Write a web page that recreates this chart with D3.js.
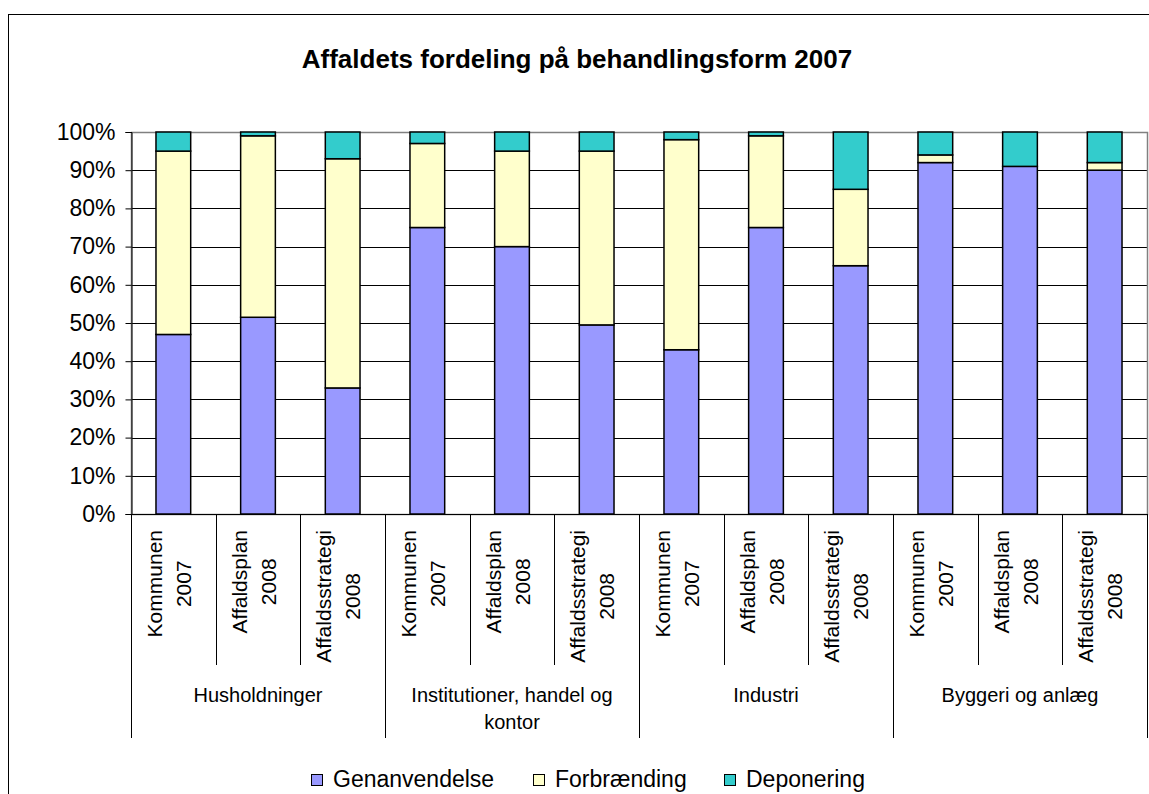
<!DOCTYPE html>
<html>
<head>
<meta charset="utf-8">
<script src="https://cdn.jsdelivr.net/npm/d3@7"></script>
<style>
  body { margin: 0; background: #fff; }
  svg text { font-family: "Liberation Sans", Arial, sans-serif; fill: #000; }
</style>
</head>
<body>
<svg id="chart"></svg>
<script>
(function(){

  // DATA
  const groups = ["Husholdninger", "Institutioner, handel og kontor", "Industri", "Byggeri og anlæg"];
  const subLabels = [["Kommunen", "2007"], ["Affaldsplan", "2008"], ["Affaldsstrategi", "2008"]];
  const seriesNames = ["Genanvendelse", "Forbrænding", "Deponering"];
  const seriesColors = ["#9999FF", "#FFFFCC", "#33CCCC"];
  const genanvendelse = [47, 51.5, 33, 75, 70, 49.5, 43, 75, 65, 92, 91, 90];
  const forbraending  = [48, 47.5, 60, 22, 25, 45.5, 55, 24, 20, 2, 0, 2];
  const deponering    = [5, 1, 7, 3, 5, 5, 2, 1, 15, 6, 9, 8];
  const yTicks = [0, 10, 20, 30, 40, 50, 60, 70, 80, 90, 100];

  const w = 1149,
    h = 794,
    left = 131,
    right = 1147,
    top = 132,
    bottom = 514,
    fs = 20;

  // build rows for stacking
  const rows = genanvendelse.map((g, i) => ({
    id: i,
    Genanvendelse: g,
    "Forbrænding": forbraending[i],
    Deponering: deponering[i]
  }));

  const svg = d3.select("#chart")
    .attr("width", w)
    .attr("height", h);

  svg.append("rect")
    .attr("width", w).attr("height", h)
    .attr("fill", "#fff");

  // chart frame (runs off the right and bottom edge)
  svg.append("rect")
    .attr("x", 8.5).attr("y", 14.5)
    .attr("width", w + 20).attr("height", h + 20)
    .attr("fill", "none")
    .attr("stroke", "#000")
    .attr("stroke-width", 1);

  // TITLE
  svg.append("text")
    .attr("x", 577)
    .attr("y", 68)
    .attr("text-anchor", "middle")
    .style("font-size", "26px")
    .style("font-weight", "bold")
    .text("Affaldets fordeling på behandlingsform 2007");

  // SCALES
  const x = d3.scaleBand()
    .domain(rows.map(d => d.id))
    .range([left, right])
    .paddingInner(0.59)
    .paddingOuter(0.295);

  const y = d3.scaleLinear()
    .domain([0, 100])
    .range([bottom, top]);

  const step = x.step();

  // GRIDLINES
  svg.append("g")
    .selectAll("line")
    .data(yTicks.slice(1, -1))
    .join("line")
    .attr("x1", left).attr("x2", right)
    .attr("y1", d => Math.round(y(d)) + 0.5)
    .attr("y2", d => Math.round(y(d)) + 0.5)
    .attr("stroke", "#000")
    .attr("stroke-width", 1);

  // plot border
  svg.append("rect")
    .attr("x", left + 0.5).attr("y", top + 0.5)
    .attr("width", right - left).attr("height", bottom - top)
    .attr("fill", "none")
    .attr("stroke", "#808080")
    .attr("stroke-width", 1.5);

  // BARS
  const stack = d3.stack().keys(seriesNames);
  const stacked = stack(rows);

  svg.append("g")
    .selectAll("g")
    .data(stacked)
    .join("g")
    .attr("fill", (d, i) => seriesColors[i])
    .selectAll("rect")
    .data(d => d.filter(p => p[1] - p[0] > 0))
    .join("rect")
    .attr("x", d => x(d.data.id))
    .attr("y", d => y(d[1]))
    .attr("width", x.bandwidth())
    .attr("height", d => y(d[0]) - y(d[1]))
    .attr("stroke", "#000")
    .attr("stroke-width", 1.5);

  // Y AXIS
  const yAxis = d3.axisLeft(y)
    .tickValues(yTicks)
    .tickSize(6)
    .tickPadding(10)
    .tickFormat(d => d + "%");

  const yg = svg.append("g")
    .attr("transform", "translate(" + (left + 0.5) + ",0)")
    .call(yAxis);
  yg.select(".domain").attr("stroke", "#000");
  yg.selectAll(".tick line").attr("stroke", "#000");
  yg.selectAll(".tick text")
    .style("font-size", "23px")
    .attr("fill", "#000");

  // X AXIS line
  svg.append("line")
    .attr("x1", left).attr("x2", right + 1)
    .attr("y1", bottom + 0.5).attr("y2", bottom + 0.5)
    .attr("stroke", "#000");

  // category separators
  const seps = d3.range(rows.length + 1);
  svg.append("g")
    .selectAll("line")
    .data(seps)
    .join("line")
    .attr("x1", d => Math.round(left + d * step) + 0.5)
    .attr("x2", d => Math.round(left + d * step) + 0.5)
    .attr("y1", bottom)
    .attr("y2", d => d % 3 === 0 ? 738 : 665)
    .attr("stroke", "#000")
    .attr("stroke-width", 1);

  // sub labels, rotated, two lines, top aligned to axis
  const lineGap = 29;
  rows.forEach((r, i) => {
    const lines = subLabels[i % 3];
    const cx = x(r.id) + x.bandwidth() / 2;
    const g = svg.append("g");
    const txt = g.append("text")
      .attr("text-anchor", "middle")
      .style("font-size", "21px");
    lines.forEach((l, j) => {
      txt.append("tspan")
        .attr("x", 0)
        .attr("y", (j - (lines.length - 1) / 2) * lineGap + 7)
        .text(l);
    });
    const maxLen = d3.max(txt.selectAll("tspan").nodes(), n => n.getComputedTextLength());
    g.attr("transform", "translate(" + (cx - 4) + "," + (530 + maxLen / 2) + ") rotate(-90)");
  });

  // group labels
  groups.forEach((gname, gi) => {
    const cx = left + (gi * 3 + 1.5) * step;
    const t = svg.append("text")
      .attr("text-anchor", "middle")
      .style("font-size", fs + "px");
    // wrap to the group width
    const words = gname.split(" ");
    const maxW = step * 3 - 20;
    let lines = [], cur = "";
    const probe = svg.append("text").style("font-size", fs + "px");
    words.forEach(wd => {
      const test = cur ? cur + " " + wd : wd;
      probe.text(test);
      if (probe.node().getComputedTextLength() > maxW && cur) {
        lines.push(cur);
        cur = wd;
      } else {
        cur = test;
      }
    });
    lines.push(cur);
    probe.remove();
    lines.forEach((l, j) => {
      t.append("tspan")
        .attr("x", cx)
        .attr("y", 702 + j * 27)
        .text(l);
    });
  });

  // LEGEND
  const legendX = [311, 533, 724];
  const legend = svg.append("g");
  seriesNames.forEach((s, i) => {
    legend.append("rect")
      .attr("x", legendX[i] + 0.5)
      .attr("y", 774.5)
      .attr("width", 11).attr("height", 11)
      .attr("fill", seriesColors[i])
      .attr("stroke", "#000");
    legend.append("text")
      .attr("x", legendX[i] + 22)
      .attr("y", 787)
      .style("font-size", "23px")
      .text(s);
  });

})()
</script>
</body>
</html>
